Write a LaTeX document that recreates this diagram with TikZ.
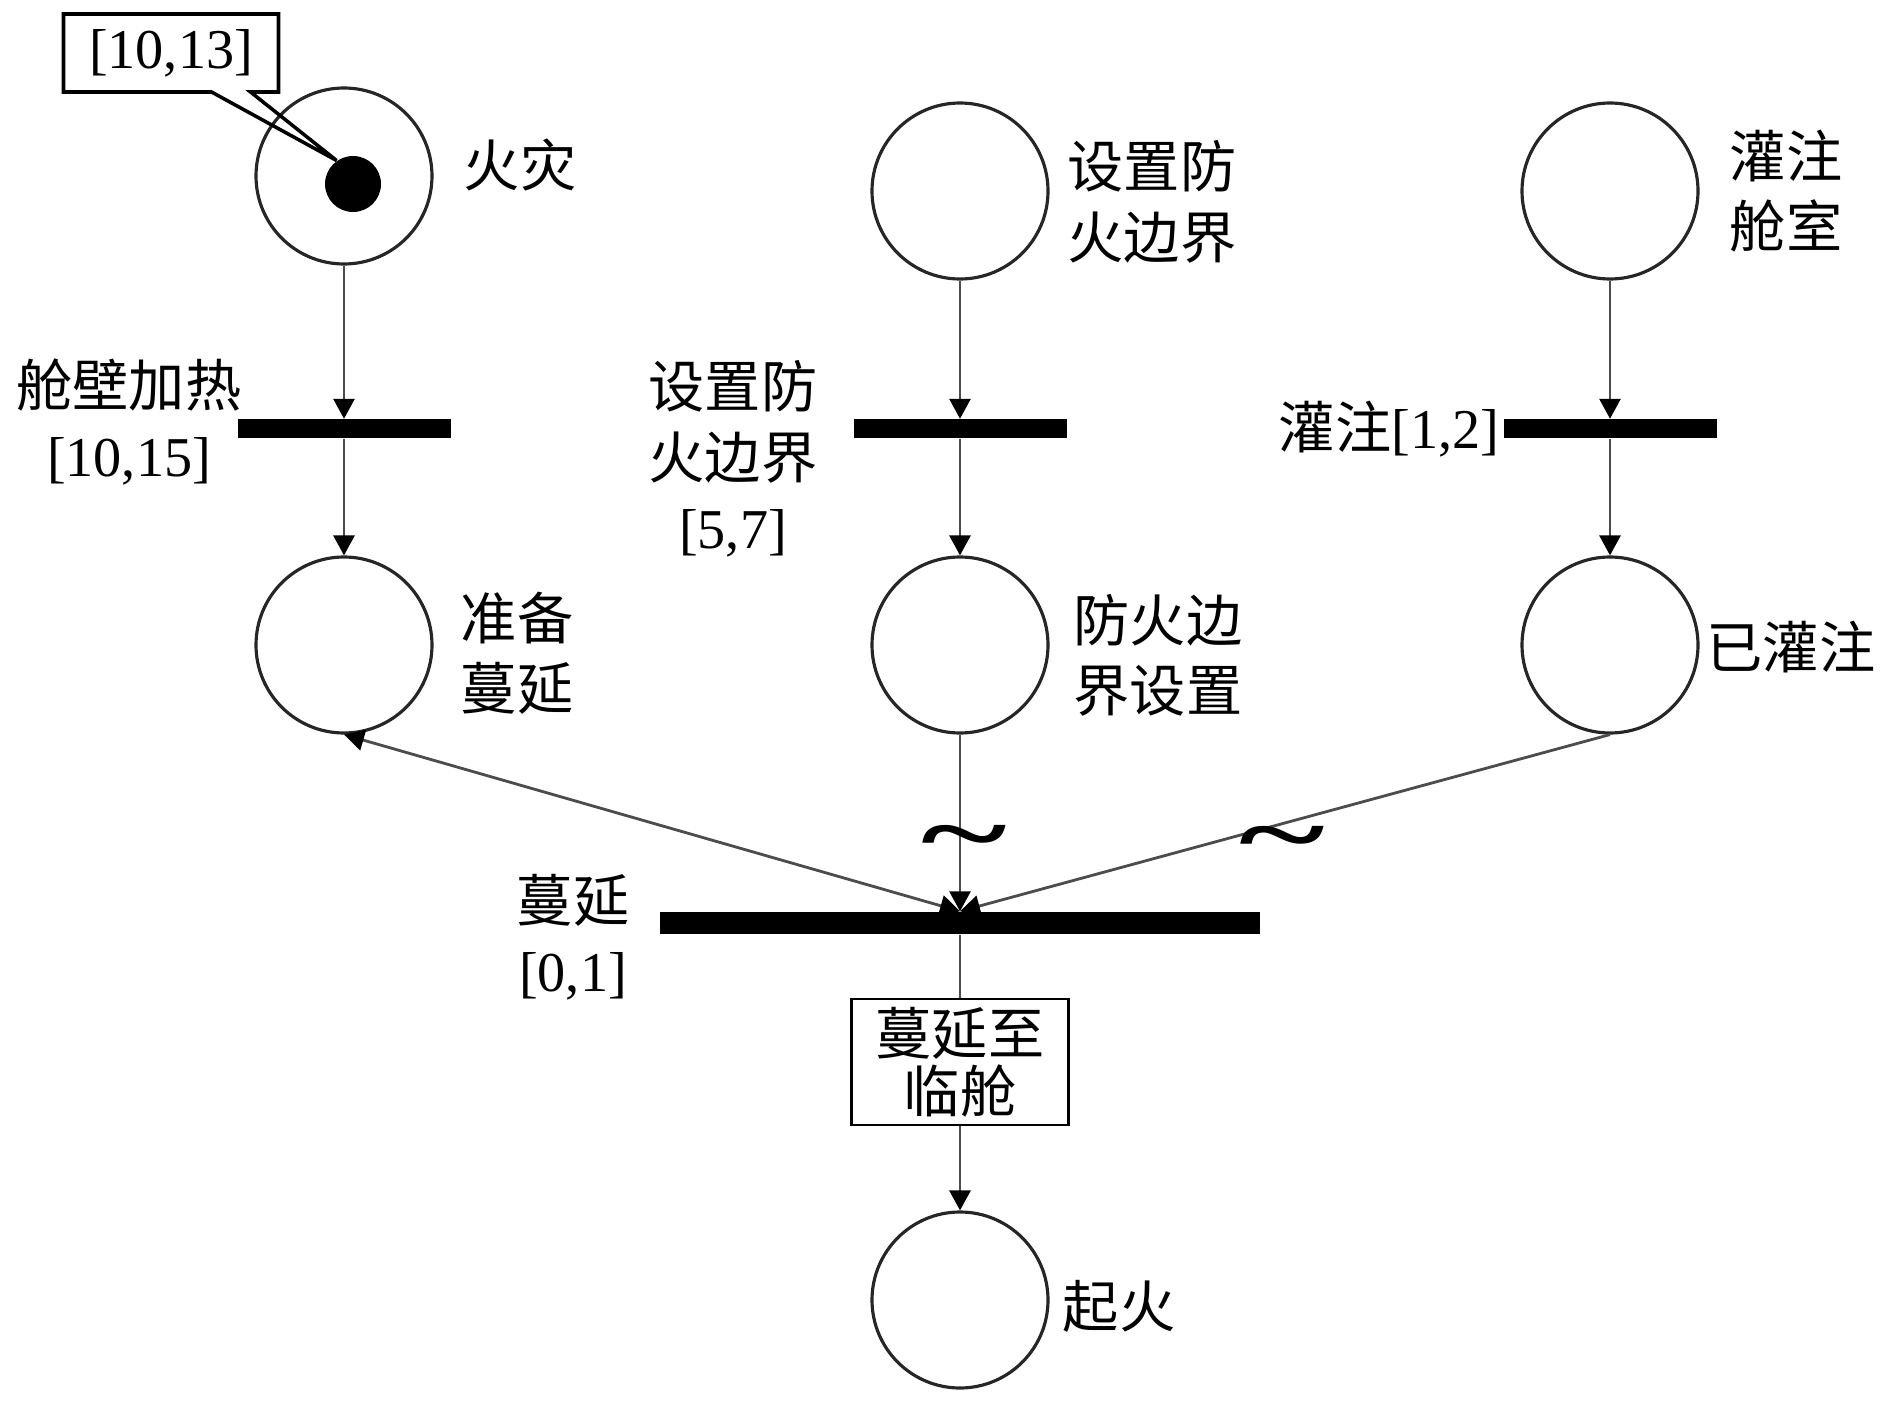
\documentclass[tikz,border=0pt]{standalone}
\usepackage{fontspec}
\setmainfont{Liberation Serif}
\newfontfamily\cjk{Noto Sans CJK SC}
\usepackage{tikz}
\usetikzlibrary{shapes.callouts,arrows.meta,positioning}
\newcommand{\zh}[1]{{\cjk #1}}
\newcommand{\flattilde}{\scalebox{1.3}[0.75]{\textasciitilde}}

\begin{document}
\begin{tikzpicture}[
  >={Triangle[length=2mm,width=2.1mm,color=black]},
  place/.style={circle, draw=black!85, line width=0.9pt, minimum size=1.76cm, inner sep=0pt},
  trans/.style={rectangle, fill=black, minimum width=2.13cm, minimum height=0.19cm, inner sep=0pt},
  arc/.style={draw=black!70, line width=0.8pt, ->},
  lbl/.style={align=center, font=\fontsize{16}{20}\selectfont, inner sep=0pt},
  tildemark/.style={font=\fontsize{36}{36}\selectfont\bfseries, inner sep=0pt, yshift=-0.1cm}
]
\useasboundingbox (0,0) rectangle (18.9,-14.09);

% places
\node[place] (fire) at (3.44,-1.76) {};
\node[circle, fill=black, minimum size=0.56cm, inner sep=0pt] (tok) at (3.53,-1.84) {};
\node[place] (guard) at (9.60,-1.91) {};
\node[place] (flood) at (16.10,-1.91) {};
\node[place] (ready) at (3.44,-6.45) {};
\node[place] (bound) at (9.60,-6.45) {};
\node[place] (flooded) at (16.10,-6.45) {};
\node[place] (ignite) at (9.60,-13.00) {};

% transitions
\node[trans] (t1) at (3.44,-4.29) {};
\node[trans] (t2) at (9.60,-4.29) {};
\node[trans] (t3) at (16.10,-4.29) {};
\node[trans, minimum width=6cm, minimum height=0.22cm] (t4) at (9.60,-9.23) {};

\node[rectangle callout, draw, line width=1pt, minimum width=2.15cm, minimum height=0.78cm,
  callout absolute pointer={(tok.125)}, callout pointer width=0.39cm, lbl] (tbox) at (1.71,-0.53) {[10,13]};
\node[draw, line width=0.8pt, minimum width=2.17cm, minimum height=1.26cm, inner sep=0pt,
  align=center, font=\fontsize{16}{16.5}\selectfont] (spreadbox) at (9.60,-10.62) {\zh{蔓延至}\\\zh{临舱}};

% labels
\node[lbl] (firelbl) at (5.20,-1.65) {\zh{火灾}};
\node[lbl] (guardlbl) at (11.52,-2.02) {\zh{设置防}\\\zh{火边界}};
\node[lbl] (floodlbl) at (17.86,-1.91) {\zh{灌注}\\\zh{舱室}};
\node[lbl] (t1lbl) at (1.29,-4.22) {\zh{舱壁加热}\\{}[10,15]};
\node[lbl] (t2lbl) at (7.33,-4.59) {\zh{设置防}\\\zh{火边界}\\{}[5,7]};
\node[lbl, left=0.03cm of t3] (t3lbl) {\zh{灌注}[1,2]};
\node[lbl] (readylbl) at (5.17,-6.53) {\zh{准备}\\\zh{蔓延}};
\node[lbl] (boundlbl) at (11.58,-6.55) {\zh{防火边}\\\zh{界设置}};
\node[lbl] (floodedlbl) at (17.91,-6.47) {\zh{已灌注}};
\node[lbl] (spreadlbl) at (5.73,-9.37) {\zh{蔓延}\\{}[0,1]};
\node[lbl] (ignitelbl) at (11.19,-13.06) {\zh{起火}};

% arcs
\draw[arc] (fire) -- (t1);
\draw[arc] (t1) -- (ready);
\draw[arc] (guard) -- (t2);
\draw[arc] (t2) -- (bound);
\draw[arc] (flood) -- (t3);
\draw[arc] (t3) -- (flooded);
\draw[arc] (bound) -- (t4);
\draw[arc] (flooded.south) -- (t4.north);
\draw[arc, <->] (ready.south) -- (t4.north);
\draw[arc, -] (t4) -- (spreadbox);
\draw[arc] (spreadbox) -- (ignite);

\node[tildemark] (w1) at (9.64,-8.35) {\flattilde};
\node[tildemark] (w2) at (12.82,-8.36) {\flattilde};
\end{tikzpicture}
\end{document}
